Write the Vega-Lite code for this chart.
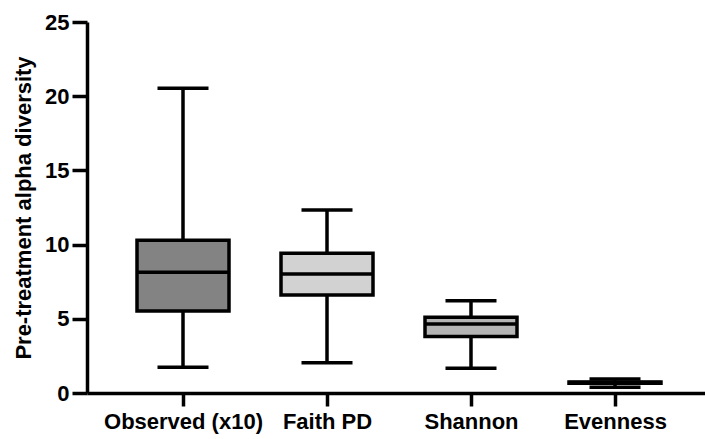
{
  "$schema": "https://vega.github.io/schema/vega-lite/v6.json",
  "width": 624,
  "height": 371,
  "autosize": {"type": "none"},
  "padding": {"left": 87, "top": 22, "right": 0, "bottom": 46},
  "background": "white",
  "config": {
    "view": {"stroke": null},
    "font": "Liberation Sans",
    "axis": {
      "domainColor": "black",
      "domainWidth": 3.5,
      "tickColor": "black",
      "tickWidth": 3.5,
      "grid": false,
      "labelColor": "black",
      "labelFont": "Liberation Sans",
      "labelFontWeight": "bold",
      "labelFontSize": 22,
      "titleColor": "black",
      "titleFont": "Liberation Sans",
      "titleFontWeight": "bold",
      "titleFontSize": 22
    }
  },
  "data": {
    "values": [
      {"index": "Observed (x10)", "min": 1.73, "q1": 5.52, "median": 8.13, "q3": 10.3, "max": 20.53},
      {"index": "Faith PD", "min": 2.04, "q1": 6.6, "median": 8.02, "q3": 9.41, "max": 12.33},
      {"index": "Shannon", "min": 1.66, "q1": 3.8, "median": 4.65, "q3": 5.1, "max": 6.22},
      {"index": "Evenness", "min": 0.38, "q1": 0.66, "median": 0.7, "q3": 0.74, "max": 0.95}
    ]
  },
  "encoding": {
    "x": {
      "field": "index",
      "type": "nominal",
      "sort": null,
      "scale": {"type": "point", "padding": 0.6667},
      "axis": {"title": null, "labelAngle": 0, "tickSize": 13, "labelPadding": 5}
    }
  },
  "layer": [
    {
      "mark": {"type": "rule", "stroke": "black", "strokeWidth": 3.5},
      "encoding": {
        "y": {
          "field": "min",
          "type": "quantitative",
          "scale": {"domain": [0, 25], "nice": false},
          "axis": {
            "title": "Pre-treatment alpha diversity",
            "values": [0, 5, 10, 15, 20, 25],
            "tickSize": 15,
            "labelPadding": 3,
            "titlePadding": 9
          }
        },
        "y2": {"field": "max"}
      }
    },
    {
      "mark": {"type": "bar", "size": 92, "stroke": "black", "strokeWidth": 3.5, "opacity": 1},
      "encoding": {
        "y": {"field": "q1", "type": "quantitative"},
        "y2": {"field": "q3"},
        "fill": {
          "field": "index",
          "type": "nominal",
          "scale": {
            "domain": ["Observed (x10)", "Faith PD", "Shannon", "Evenness"],
            "range": ["#838383", "#d2d2d2", "#b4b4b4", "#8c8c8c"]
          },
          "legend": null
        }
      }
    },
    {
      "mark": {"type": "tick", "size": 92, "thickness": 3.5, "color": "black", "opacity": 1},
      "encoding": {"y": {"field": "median", "type": "quantitative"}}
    },
    {
      "mark": {"type": "tick", "size": 51, "thickness": 3.5, "color": "black", "opacity": 1},
      "encoding": {"y": {"field": "min", "type": "quantitative"}}
    },
    {
      "mark": {"type": "tick", "size": 51, "thickness": 3.5, "color": "black", "opacity": 1},
      "encoding": {"y": {"field": "max", "type": "quantitative"}}
    }
  ]
}
